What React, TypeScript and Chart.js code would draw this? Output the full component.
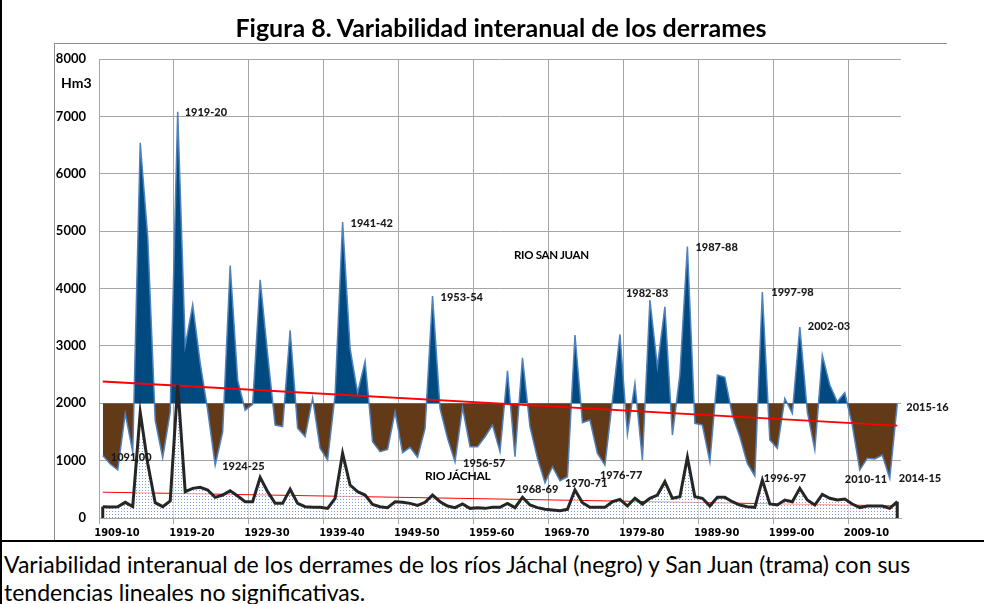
import React, { useEffect, useRef } from 'react';
import { Chart, registerables } from 'chart.js';

Chart.register(...registerables);

// ---------- DATA ----------
const firstSeasonYear = 1909;
const xTickLabels = ['1909-10', '1919-20', '1929-30', '1939-40', '1949-50', '1959-60', '1969-70', '1979-80', '1989-90', '1999-00', '2009-10'];
const yMax = 8000;
const yStep = 1000;
const sanJuanBaseline = 2000;

// Río San Juan, Hm3, 1909-10 ... 2015-16
const sanJuan = [
  1091, 940, 840, 1825, 1150, 6540, 4900, 1700, 1050, 1850,
  7080, 3000, 3720, 2700, 1880, 920, 1500, 4400, 2400, 1880,
  1980, 4150, 2850, 1620, 1595, 3270, 1565, 1420, 2090, 1215,
  1010, 2150, 5160, 2950, 2180, 2730, 1330, 1156, 1196, 1852,
  1138, 1231, 1057, 1562, 3870, 1910, 1388, 980, 1928, 1243,
  1243, 1417, 1620, 1156, 2566, 1068, 2793, 1591, 1040, 615,
  894, 650, 720, 3190, 1661, 1707, 1127, 923, 2050, 3200,
  1460, 2346, 1010, 3800, 2636, 3682, 1446, 2500, 4730, 1649,
  1620, 981, 2491, 2453, 1794, 1417, 952, 732, 3940, 1359,
  1214, 2085, 1824, 3330, 1853, 1185, 2840, 2317, 2026, 2183,
  1620, 836, 1040, 1030, 1098, 690, 1990,
];

// Río Jáchal, Hm3, 1909-10 ... 2015-16
const jachal = [
  197, 190, 197, 273, 200, 1840, 950, 267, 197, 296,
  2317, 459, 517, 534, 488, 360, 400, 476, 383, 284,
  284, 708, 459, 255, 255, 500, 255, 197, 186, 186,
  168, 343, 1127, 575, 459, 400, 238, 197, 180, 284,
  273, 255, 220, 273, 400, 284, 209, 180, 244, 168,
  180, 168, 186, 186, 255, 180, 360, 226, 180, 151,
  139, 128, 151, 488, 267, 186, 186, 186, 284, 325,
  209, 343, 244, 343, 400, 633, 343, 372, 1057, 372,
  343, 209, 360, 360, 284, 226, 197, 186, 662, 244,
  226, 314, 284, 517, 314, 226, 412, 343, 314, 331,
  244, 180, 209, 209, 209, 168, 284,
];

// linear trends (start, end)
const sanJuanTrend = [2380, 1610];
const jachalTrend = [450, 210];

const peakLabels = ['1919-20', '1941-42', '1953-54', '1982-83', '1987-88', '1997-98', '2002-03', '2015-16'];
const lowLabels = ['1924-25', '1956-57', '1968-69', '1970-71', '1976-77', '1996-97', '2010-11', '2014-15'];
const firstValueLabel = '1091,00';

// ---------- STYLE ----------
const labelOffsets: Record<string, [number, number]> = {
  '1919-20': [7, 1], '1941-42': [8, 2], '1953-54': [8, 1], '1982-83': [-24, -7],
  '1987-88': [8, 1], '1997-98': [9, 1], '2002-03': [8, 0], '2015-16': [9, 4],
  '1091,00': [8, 2], '1924-25': [7, 1], '1956-57': [8, 2], '1968-69': [-29, 7],
  '1970-71': [5, 3], '1976-77': [-5, 10], '1996-97': [9, 2], '2010-11': [-15, 9],
  '2014-15': [9, 0],
};

const FONT = 'Lato, "Open Sans", sans-serif';

function makePattern(): CanvasPattern | string {
  const c = document.createElement('canvas');
  c.width = 3;
  c.height = 3;
  const g = c.getContext('2d');
  if (!g) return '#d5deef';
  g.fillStyle = 'rgba(255,255,255,0.6)';
  g.fillRect(0, 0, 3, 3);
  g.fillStyle = '#7f9bd0';
  g.fillRect(1, 1, 1, 1);
  return g.createPattern(c, 'repeat') || '#d5deef';
}

const overlayPlugin = {
  id: 'overlay',
  afterDatasetsDraw(chart: any) {
    const ctx = chart.ctx as CanvasRenderingContext2D;
    const xs = chart.scales.x;
    const ys = chart.scales.y;
    ctx.save();
    // vertical edges of the Jáchal area
    ctx.strokeStyle = '#262626';
    ctx.lineWidth = 3;
    const last = jachal.length - 1;
    [0, last].forEach((i) => {
      ctx.beginPath();
      ctx.moveTo(xs.getPixelForValue(i), ys.getPixelForValue(jachal[i]));
      ctx.lineTo(xs.getPixelForValue(i), ys.getPixelForValue(0));
      ctx.stroke();
    });
    // season labels on San Juan
    ctx.font = `900 11px ${FONT}`;
    ctx.fillStyle = '#1a1a1a';
    ctx.textAlign = 'left';
    ctx.textBaseline = 'middle';
    const draw = (text: string, idx: number) => {
      const off = labelOffsets[text] || [8, 0];
      const px = xs.getPixelForValue(idx);
      const py = ys.getPixelForValue(sanJuan[idx]);
      ctx.fillText(text, px + off[0], py + off[1]);
    };
    [...peakLabels, ...lowLabels].forEach((s) => draw(s, parseInt(s.slice(0, 4), 10) - firstSeasonYear));
    draw(firstValueLabel, 0);
    ctx.restore();
  },
};

export default function App() {
  const ref = useRef<HTMLCanvasElement | null>(null);

  useEffect(() => {
    if (!ref.current) return;
    Chart.defaults.font.family = FONT;
    const n = sanJuan.length;
    const pattern = makePattern();
    const chart = new Chart(ref.current, {
      type: 'line',
      data: {
        datasets: [
          {
            label: 'Río Jáchal',
            data: jachal.map((v, i) => ({ x: i, y: v })),
            borderColor: '#262626',
            borderWidth: 3,
            backgroundColor: pattern as any,
            fill: 'origin',
            pointRadius: 0,
            tension: 0,
            order: 1,
          },
          {
            label: 'Tendencia Jáchal',
            data: [{ x: 0, y: jachalTrend[0] }, { x: n - 1, y: jachalTrend[1] }],
            borderColor: '#ff0000',
            borderWidth: 1,
            fill: false,
            pointRadius: 0,
            order: 2,
          },
          {
            label: 'Tendencia San Juan',
            data: [{ x: 0, y: sanJuanTrend[0] }, { x: n - 1, y: sanJuanTrend[1] }],
            borderColor: '#ff0000',
            borderWidth: 2,
            fill: false,
            pointRadius: 0,
            order: 3,
          },
          {
            label: 'Río San Juan',
            data: sanJuan.map((v, i) => ({ x: i, y: v })),
            borderColor: '#4f81bd',
            borderWidth: 1.5,
            fill: { target: { value: sanJuanBaseline }, above: '#014a7f', below: '#633a18' } as any,
            pointRadius: 0,
            tension: 0,
            order: 4,
          },
        ],
      },
      options: {
        animation: false,
        responsive: false,
        maintainAspectRatio: false,
        layout: { padding: { left: 55, right: 83, top: 59, bottom: 0 } },
        plugins: { legend: { display: false }, tooltip: { enabled: false }, title: { display: false } },
        scales: {
          x: {
            type: 'linear',
            min: -0.5,
            max: n - 0.5,
            afterBuildTicks: (scale: any) => {
              scale.ticks = xTickLabels.map((_, k) => ({ value: -0.5 + 10 * k }));
            },
            afterFit: (scale: any) => {
              scale.height = 27;
            },
            ticks: {
              autoSkip: false,
              maxRotation: 0,
              minRotation: 0,
              labelOffset: 18,
              padding: 3,
              color: '#000',
              font: { size: 11, weight: 'bold', family: '"Liberation Sans Narrow", "DejaVu Sans Condensed", Lato, sans-serif' },
              callback: (_v: any, i: number) => xTickLabels[i],
            },
            grid: { color: '#a6a6a6', lineWidth: 1, drawTicks: true, tickLength: 6 },
            border: { display: true, color: '#a6a6a6' },
          },
          y: {
            min: 0,
            max: yMax,
            afterFit: (scale: any) => {
              scale.width = 44;
            },
            ticks: {
              stepSize: yStep,
              padding: 13,
              color: '#000',
              font: { size: 13, weight: 'bold' },
              callback: (v: any) => String(v),
            },
            grid: { color: '#a6a6a6', lineWidth: 1, drawTicks: false },
            border: { display: true, color: '#a6a6a6' },
          },
        },
      },
      plugins: [overlayPlugin],
    } as any);
    return () => chart.destroy();
  }, []);

  return (
    <div
      style={{
        position: 'fixed', left: 0, top: 0, width: 984, height: 604,
        background: '#fff', overflow: 'hidden', fontFamily: FONT, color: '#000',
      }}
    >
      <canvas ref={ref} width={984} height={545} style={{ position: 'absolute', left: 0, top: 0, width: 984, height: 545 }} />
      <div style={{ position: 'absolute', left: 55, top: 11, width: 892, textAlign: 'center', fontWeight: 700, fontSize: 25, lineHeight: '32px' }}>
        Figura 8. Variabilidad interanual de los derrames
      </div>
      <div style={{ position: 'absolute', left: 55, top: 43, width: 892, height: 1, background: '#8c8c8c' }} />
      <div style={{ position: 'absolute', left: 54, top: 43, width: 1, height: 497, background: '#8c8c8c' }} />
      <div style={{ position: 'absolute', left: 0, top: 0, width: 2, height: 604, background: '#000' }} />
      <div style={{ position: 'absolute', left: 0, top: 540, width: 984, height: 2, background: '#000' }} />
      <div style={{ position: 'absolute', left: 61, top: 74, fontWeight: 700, fontSize: 14 }}>Hm3</div>
      <div style={{ position: 'absolute', left: 514, top: 248, fontWeight: 700, fontSize: 11.5, letterSpacing: -0.3 }}>RIO SAN JUAN</div>
      <div style={{ position: 'absolute', left: 425, top: 468, fontWeight: 700, fontSize: 12, letterSpacing: -0.3 }}>RIO JÁCHAL</div>
      <div style={{ position: 'absolute', left: 4, top: 550, fontSize: 23, lineHeight: '28px', whiteSpace: 'nowrap' }}>
        Variabilidad interanual de los derrames de los ríos Jáchal (negro) y San Juan (trama) con sus
        <br />
        tendencias lineales no significativas.
      </div>
    </div>
  );
}
